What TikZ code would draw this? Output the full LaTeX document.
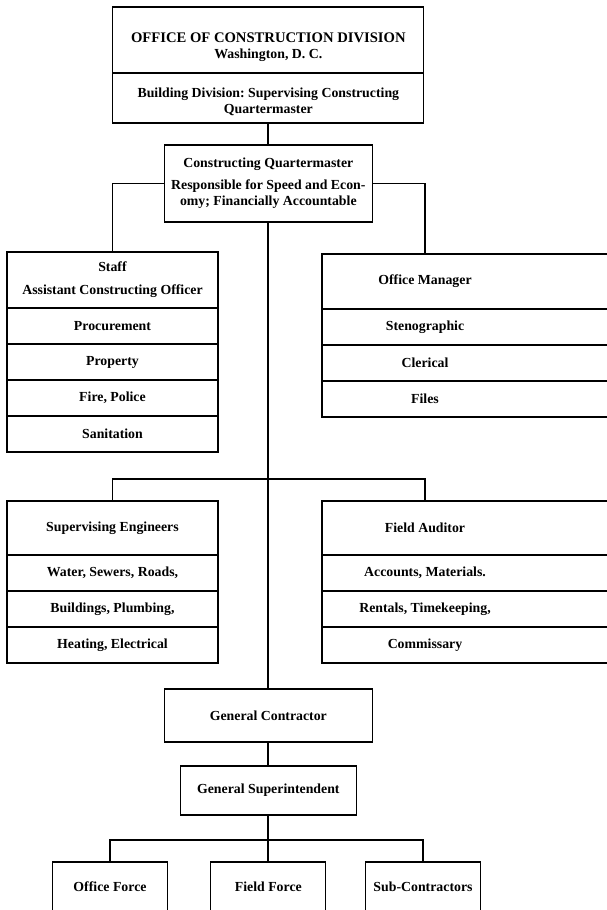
\documentclass[tikz,border=0pt]{standalone}
\usepackage{fontspec}
\setmainfont{Liberation Serif}
\usetikzlibrary{positioning}

% text of the right-hand boxes, which run off the page
\newcommand{\rtxt}[1]{\makebox[9.54cm][l]{\makebox[6.18cm]{#1}}}

\begin{document}
\begin{tikzpicture}[
    box/.style={
        rectangle,
        draw=black,
        line width=1.1pt,
        outer sep=0pt,
        align=center,
        font=\bfseries\fontsize{11.8}{13.8}\selectfont
    },
    head/.style={box, minimum width=6.33cm, minimum height=1.65cm},
    row/.style={box, minimum width=6.33cm, minimum height=1.08cm},
    rhead/.style={head, minimum width=9.54cm, inner xsep=0pt},
    rrow/.style={row, minimum width=9.54cm, inner xsep=0pt},
    link/.style={line width=1.6pt}
]

\useasboundingbox (0,0) rectangle (18.21,-27.3);
\clip (0,0) rectangle (18.21,-27.3);

% Head office
\node[box, minimum width=9.33cm, minimum height=1.98cm, anchor=north] (office) at (8.05,-0.21)
    {{\fontsize{12.5}{14}\selectfont\rule{0pt}{20pt}OFFICE OF CONSTRUCTION DIVISION}\\Washington, D. C.};
\node[box, minimum width=9.33cm, minimum height=1.5cm, below=0pt of office] (bldg)
    {\rule{0pt}{14pt}Building Division:\ Supervising Constructing\\Quartermaster};

% Constructing Quartermaster
\node[box, minimum width=6.24cm, minimum height=2.31cm, below=0.66cm of bldg] (cq)
    {Constructing Quartermaster\\[5pt]Responsible for Speed and Econ-\\omy; Financially Accountable};

% Staff
\node[head, minimum height=1.68cm, anchor=north west] (staff) at (0.21,-7.56)
    {Staff\\[6pt]Assistant Constructing Officer};
\node[row, below=0pt of staff] (proc) {Procurement};
\node[row, below=0pt of proc] (prop) {Property};
\node[row, below=0pt of prop] (fire) {Fire, Police};
\node[row, below=0pt of fire] (sani) {Sanitation};

% Office Manager
\node[rhead, anchor=north west] (om) at (9.66,-7.62) {\rtxt{Office Manager}};
\node[rrow, below=0pt of om] (steno) {\rtxt{Stenographic}};
\node[rrow, below=0pt of steno] (cler) {\rtxt{Clerical}};
\node[rrow, below=0pt of cler] (files) {\rtxt{Files}};

% Supervising Engineers
\node[head, minimum height=1.62cm, anchor=north west] (eng) at (0.21,-15.03) {Supervising Engineers};
\node[row, below=0pt of eng] (water) {Water, Sewers, Roads,};
\node[row, below=0pt of water] (bldgs) {Buildings, Plumbing,};
\node[row, below=0pt of bldgs] (heat) {Heating, Electrical};

% Field Auditor
\node[rhead, minimum height=1.62cm, anchor=north west] (aud) at (9.66,-15.03) {\rtxt{Field Auditor}};
\node[rrow, below=0pt of aud] (acct) {\rtxt{Accounts, Materials.}};
\node[rrow, below=0pt of acct] (rent) {\rtxt{Rentals, Timekeeping,}};
\node[rrow, below=0pt of rent] (comm) {\rtxt{Commissary}};

% Contractor
\node[box, minimum width=6.24cm, minimum height=1.59cm, anchor=north] (gc) at (8.05,-20.67) {General Contractor};
\node[box, minimum width=5.28cm, minimum height=1.47cm, below=0.72cm of gc] (gs) {General Superintendent};

% Forces
\node[box, minimum width=3.45cm, minimum height=1.47cm, anchor=north] (of) at (3.3,-25.86) {Office Force};
\node[box, minimum width=3.45cm, minimum height=1.47cm, anchor=north] (ff) at (8.05,-25.86) {Field Force};
\node[box, minimum width=3.45cm, minimum height=1.47cm, anchor=north] (sc) at (12.69,-25.86) {Sub-Contractors};

% Connectors
\draw[link] (bldg) -- (cq);
\draw[link] (cq.west) -| (staff.north);
\draw[link] (cq.east) -| ([xshift=3.09cm]om.north west);
\draw[link] (cq.south) -- (gc.north);
\draw[link] (eng.north) -- ++(0,0.66) -| ([xshift=3.09cm]aud.north west);
\draw[link] (gc) -- (gs);
\draw[link] (gs) -- (ff);
\draw[link] (of.north) -- ++(0,0.66) -| (sc.north);

\end{tikzpicture}
\end{document}
